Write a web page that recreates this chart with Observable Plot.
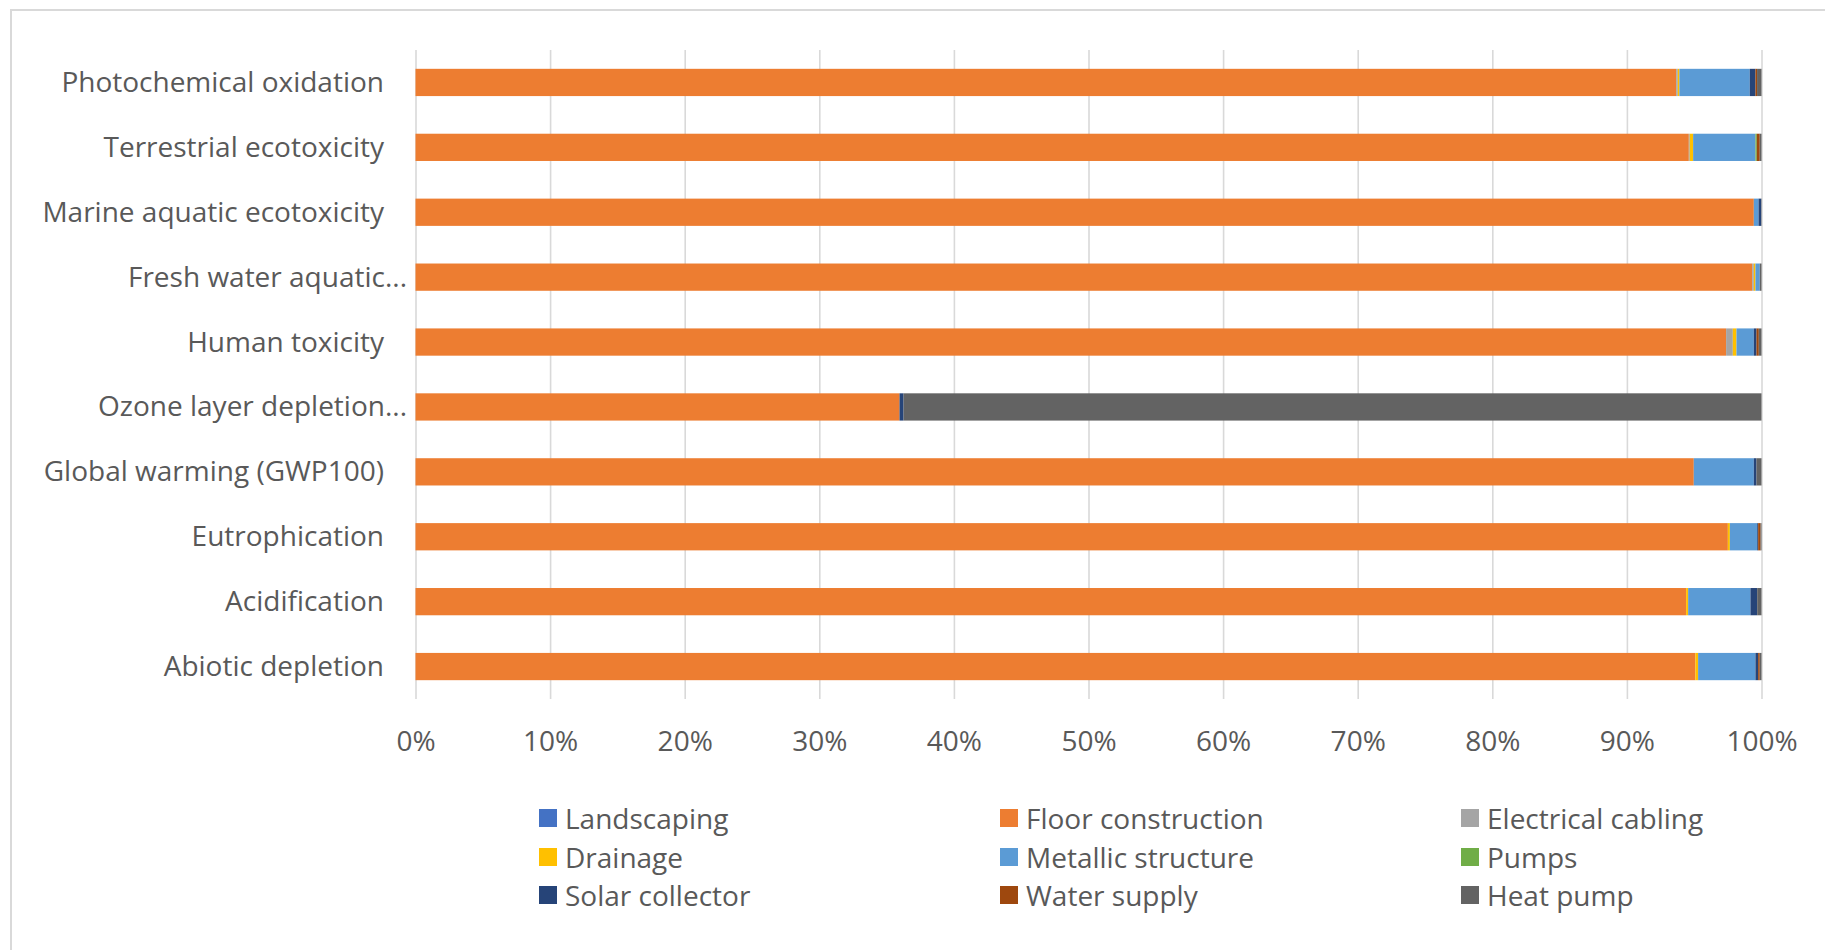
<!DOCTYPE html>
<html>
<head>
<meta charset="utf-8">
<script src="https://cdn.jsdelivr.net/npm/d3@7"></script>
<script src="https://cdn.jsdelivr.net/npm/@observablehq/plot@0.6"></script>
<style>
  html, body { margin: 0; padding: 0; background: #fff; }
  body { width: 1825px; height: 950px; overflow: hidden; position: relative; font-family: "Open Sans", sans-serif; }
  #frame { position: absolute; left: 10px; top: 9px; width: 1900px; height: 1000px;
           border-left: 2px solid #d9d9d9; border-top: 2px solid #d9d9d9; box-sizing: border-box; pointer-events: none; }
  #chart { position: absolute; left: 0; top: 0; }
  #legend { position: absolute; left: 539px; top: 799px; display: grid;
            grid-template-columns: 461px 461px 400px; grid-auto-rows: 38.5px; }
  .item { display: flex; align-items: center; font-size: 28px; color: #595959; white-space: nowrap; }
  .sw { width: 18px; height: 18px; margin-right: 8px; flex: none; }
</style>
</head>
<body>
<div id="frame"></div>
<div id="chart"></div>
<div id="legend"></div>
<script>
// Impact categories, top to bottom
const categories = [
  "Photochemical oxidation",
  "Terrestrial ecotoxicity",
  "Marine aquatic ecotoxicity",
  "Fresh water aquatic...",
  "Human toxicity",
  "Ozone layer depletion...",
  "Global warming (GWP100)",
  "Eutrophication",
  "Acidification",
  "Abiotic depletion"
];
const truncated = ["Fresh water aquatic...", "Ozone layer depletion..."];

// Building components, in stacking order
const components = [
  "Landscaping", "Floor construction", "Electrical cabling",
  "Drainage", "Metallic structure", "Pumps",
  "Solar collector", "Water supply", "Heat pump"
];
const colors = [
  "#4472C4", "#ED7D31", "#A5A5A5",
  "#FFC000", "#5B9BD5", "#70AD47",
  "#264478", "#9E480E", "#636363"
];

// Share of each component (%), one value per category in the order above
const landscaping       = [0,     0,     0,     0,     0,     0,     0,     0,     0,     0];
const floorConstruction = [93.66, 94.60, 99.43, 99.31, 97.37, 35.96, 94.97, 97.50, 94.40, 95.09];
const electricalCabling = [0.12,  0.07,  0,     0.12,  0.50,  0,     0,     0,     0,     0];
const drainage          = [0.12,  0.25,  0,     0.12,  0.27,  0,     0,     0.15,  0.15,  0.20];
const metallicStructure = [5.23,  4.63,  0.35,  0.32,  1.29,  0,     4.46,  2.03,  4.63,  4.26];
const pumps             = [0,     0.10,  0,     0,     0,     0,     0,     0,     0,     0];
const solarCollector    = [0.42,  0,     0.20,  0,     0.20,  0.30,  0.20,  0.07,  0.50,  0.20];
const waterSupply       = [0.12,  0.22,  0,     0,     0.17,  0,     0,     0.18,  0,     0.12];
const heatPump          = [0.33,  0.13,  0.02,  0.13,  0.20,  63.74, 0.37,  0.07,  0.32,  0.13];

const series = [landscaping, floorConstruction, electricalCabling, drainage,
                metallicStructure, pumps, solarCollector, waterSupply, heatPump];

const xTicks = [0, 10, 20, 30, 40, 50, 60, 70, 80, 90, 100];

// Long table for the stacked bars
const rows = [];
components.forEach((c, j) => {
  categories.forEach((cat, i) => {
    rows.push({category: cat, component: c, value: series[j][i]});
  });
});

const plot = Plot.plot({
  width: 1825,
  height: 780,
  marginTop: 50,
  marginBottom: 81,
  marginLeft: 415.5,
  marginRight: 63.5,
  style: {fontFamily: "'Open Sans', sans-serif", fontSize: "28px", color: "#595959", background: "transparent"},
  x: {domain: [0, 100]},
  y: {domain: categories, paddingInner: 0.58, paddingOuter: 0.29, round: false},
  color: {domain: components, range: colors},
  marks: [
    Plot.gridX(xTicks, {stroke: "#d9d9d9", strokeOpacity: 1, strokeWidth: 1.6}),
    Plot.barX(rows, Plot.stackX({
      x: "value", y: "category", fill: "component", order: components
    })),
    Plot.axisX(xTicks, {
      tickSize: 0, tickPadding: 32, label: null,
      tickFormat: d => d + "%", fontSize: 28, fill: "#595959"
    }),
    Plot.axisY(categories.filter(c => !truncated.includes(c)), {
      tickSize: 0, tickPadding: 32, label: null, fontSize: 28, fill: "#595959"
    }),
    Plot.axisY(truncated, {
      tickSize: 0, tickPadding: 9, label: null, fontSize: 28, fill: "#595959"
    })
  ]
});
document.getElementById("chart").appendChild(plot);

// Legend, three columns, filled row by row
const legend = document.getElementById("legend");
components.forEach((c, j) => {
  const item = document.createElement("div");
  item.className = "item";
  const sw = document.createElement("span");
  sw.className = "sw";
  sw.style.background = colors[j];
  item.appendChild(sw);
  item.appendChild(document.createTextNode(c));
  legend.appendChild(item);
});
</script>
</body>
</html>
